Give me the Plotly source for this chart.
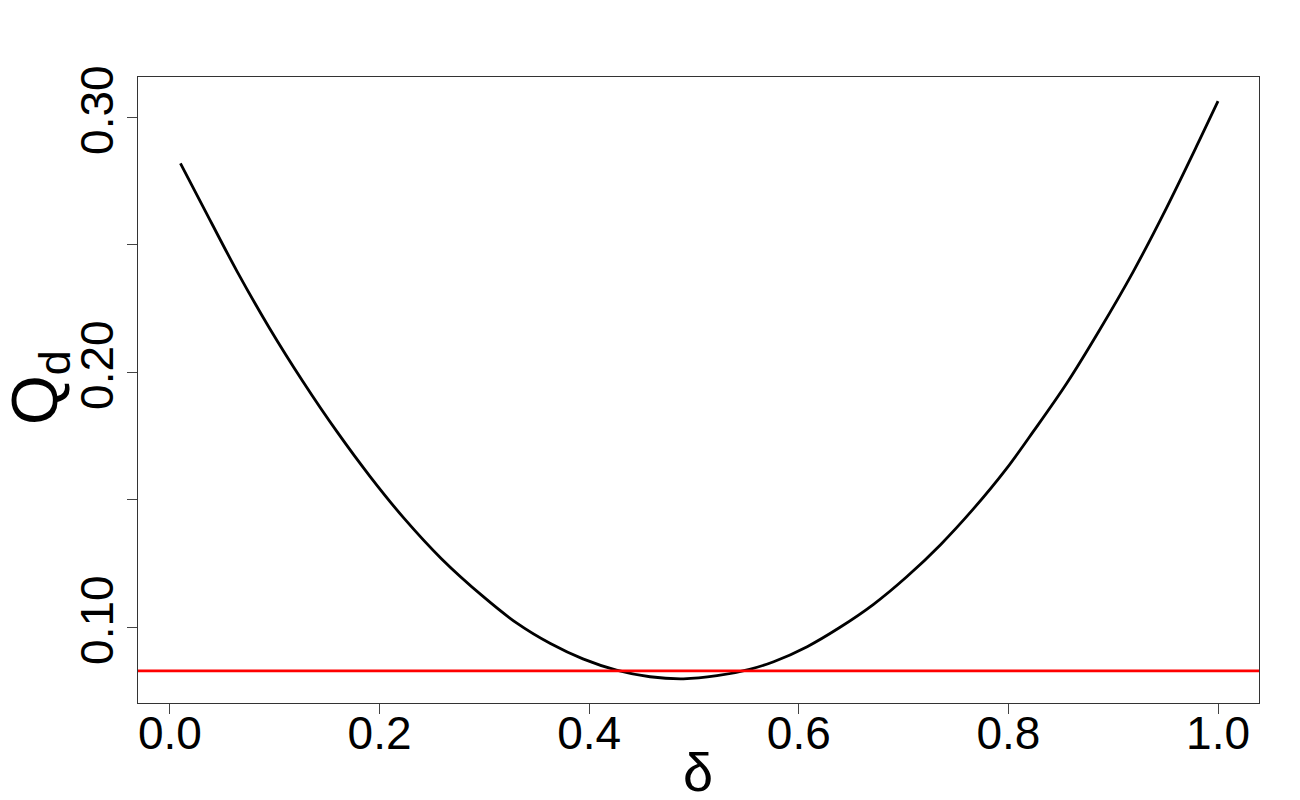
import plotly.graph_objects as go

# Data
delta = [0.010, 0.032, 0.064, 0.095, 0.127, 0.159, 0.191, 0.223, 0.259, 0.299,
         0.331, 0.363, 0.394, 0.426, 0.458, 0.490, 0.522, 0.553, 0.576, 0.608,
         0.639, 0.671, 0.703, 0.735, 0.767, 0.798, 0.824, 0.856, 0.887, 0.919,
         0.951, 0.983, 1.000]
q_d = [0.2818, 0.2645, 0.2395, 0.2172, 0.1962, 0.1768, 0.1590, 0.1428, 0.1268, 0.1119,
       0.1015, 0.0935, 0.0875, 0.0831, 0.0805, 0.0797, 0.0809, 0.0834, 0.0864, 0.0923,
       0.0998, 0.1088, 0.1197, 0.1322, 0.1465, 0.1620, 0.1768, 0.1958, 0.2165, 0.2393,
       0.2645, 0.2915, 0.3062]
threshold = 0.0828

x_ticks = [0.0, 0.2, 0.4, 0.6, 0.8, 1.0]
x_tick_labels = ["0.0", "0.2", "0.4", "0.6", "0.8", "1.0"]
y_ticks = [0.10, 0.15, 0.20, 0.25, 0.30]
y_tick_labels = ["0.10", "", "0.20", "", "0.30"]
x_title = "δ"
y_title = "Q<sub>d</sub>"

FONT = "Liberation Sans, Arial, Helvetica, sans-serif"
# the page body adds an 8px offset, so the figure is sized to fit the window
W, H = 1292, 792
ML, MR, MT, MB = 130, 41, 69, 97

fig = go.Figure()
fig.add_trace(go.Scatter(
    x=delta, y=q_d, mode="lines",
    line=dict(color="black", width=2.8, shape="spline", smoothing=1.0),
    showlegend=False, hoverinfo="x+y",
))
fig.add_hline(y=threshold, line=dict(color="#ff0000", width=2.8), layer="above")

fig.update_layout(
    width=W, height=H,
    margin=dict(l=ML, r=MR, t=MT, b=MB, autoexpand=False),
    paper_bgcolor="white", plot_bgcolor="white",
    font=dict(family=FONT, color="black", size=46),
    showlegend=False,
)
fig.update_xaxes(
    range=[-0.0305, 1.0391], automargin=False,
    tickvals=x_ticks, ticktext=x_tick_labels,
    ticks="outside", ticklen=10, tickwidth=1, tickcolor="#444444",
    ticklabelstandoff=-20,
    showline=True, linecolor="#333333", linewidth=1, mirror=True,
    showgrid=False, zeroline=False,
    tickfont=dict(size=46, family=FONT),
)
fig.update_yaxes(
    range=[0.0702, 0.3157], automargin=False,
    tickvals=y_ticks, ticktext=y_tick_labels, tickangle=-90,
    ticks="outside", ticklen=10, tickwidth=1, tickcolor="#444444",
    ticklabelstandoff=-4,
    showline=True, linecolor="#333333", linewidth=1, mirror=True,
    showgrid=False, zeroline=False,
    tickfont=dict(size=46, family=FONT),
)

# axis titles placed as annotations (paper coordinates)
fig.add_annotation(
    text=x_title, xref="paper", yref="paper",
    x=(690 - ML) / (W - ML - MR), y=-(764 - (H - MB)) / (H - MT - MB),
    xanchor="center", yanchor="middle", showarrow=False,
    font=dict(size=54, family=FONT, color="black"),
)
fig.add_annotation(
    text=y_title, xref="paper", yref="paper", textangle=-90,
    x=-(ML - 31) / (W - ML - MR), y=(H - MB - 380) / (H - MT - MB),
    xanchor="center", yanchor="middle", showarrow=False,
    font=dict(size=64, family=FONT, color="black"),
)

fig.write_html("out.html")
